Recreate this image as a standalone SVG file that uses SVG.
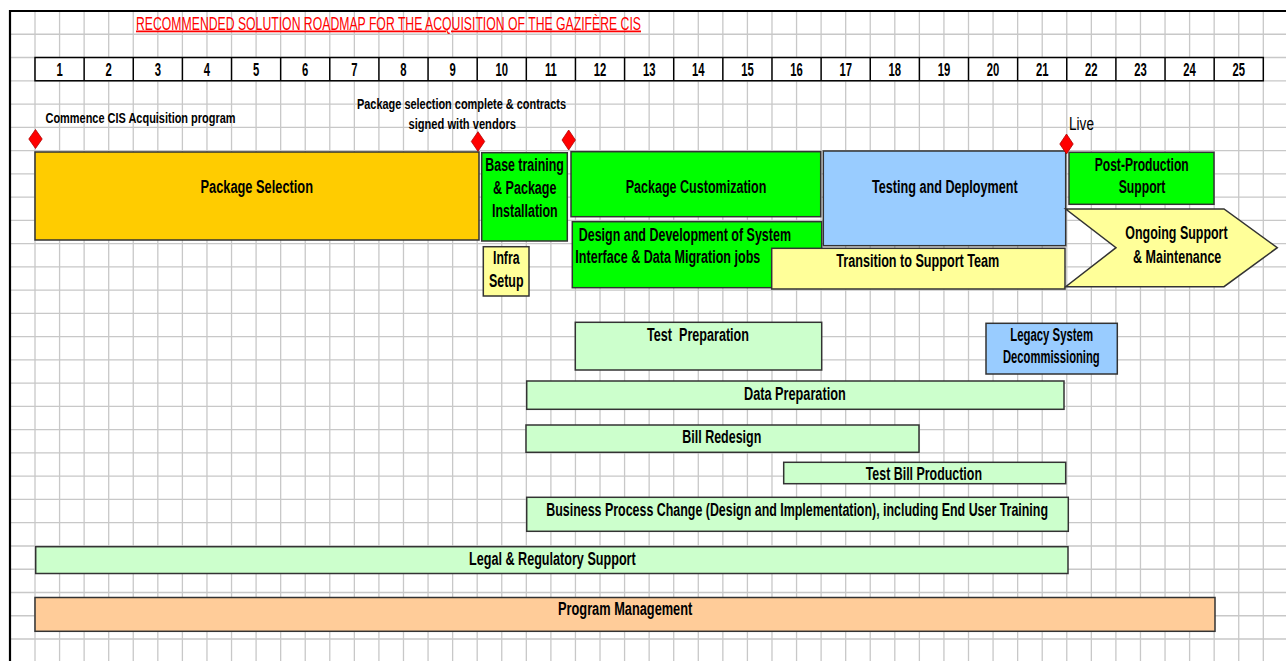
<svg xmlns="http://www.w3.org/2000/svg" width="1286" height="661" viewBox="0 0 1286 661">
<style>
text{font-family:"Liberation Sans",Arial,sans-serif;fill:#000}
.b{font-weight:bold;font-size:17.6px}
.m{font-weight:bold;font-size:14.5px}
.n{font-weight:bold;font-size:17.6px;text-anchor:middle}
.bar{stroke:#333;stroke-width:1.5}
.or{fill:#FFCC00}.gr{fill:#00FF00}.ly{fill:#FFFF99}.lb{fill:#99CCFF}.lg{fill:#CCFFCC}.pe{fill:#FFCC99}
.dia{fill:#FF0000;stroke:#B00000;stroke-width:0.8}
.grid{stroke:#C8C8C8;stroke-width:1.3;fill:none}
</style>
<rect width="1286" height="661" fill="#fff"/>
<g id="grid">
<path class="grid" d="M35,11V661M59.57,11V661M84.13,11V661M108.7,11V661M133.26,11V661M157.83,11V661M182.4,11V661M206.96,11V661M231.53,11V661M256.09,11V661M280.66,11V661M305.23,11V661M329.79,11V661M354.36,11V661M378.92,11V661M403.49,11V661M428.06,11V661M452.62,11V661M477.19,11V661M501.75,11V661M526.32,11V661M550.89,11V661M575.45,11V661M600.02,11V661M624.58,11V661M649.15,11V661M673.72,11V661M698.28,11V661M722.85,11V661M747.41,11V661M771.98,11V661M796.55,11V661M821.11,11V661M845.68,11V661M870.24,11V661M894.81,11V661M919.38,11V661M943.94,11V661M968.51,11V661M993.07,11V661M1017.64,11V661M1042.21,11V661M1066.77,11V661M1091.34,11V661M1115.9,11V661M1140.47,11V661M1165.04,11V661M1189.6,11V661M1214.17,11V661M1238.73,11V661M1263.3,11V661"/>
<path class="grid" d="M10,34.26H1286M10,57.52H1286M10,80.78H1286M10,104.04H1286M10,127.3H1286M10,150.56H1286M10,173.82H1286M10,197.08H1286M10,220.34H1286M10,243.6H1286M10,266.86H1286M10,290.12H1286M10,313.38H1286M10,336.64H1286M10,359.9H1286M10,383.16H1286M10,406.42H1286M10,429.68H1286M10,452.94H1286M10,476.2H1286M10,499.46H1286M10,522.72H1286M10,545.98H1286M10,569.24H1286M10,592.5H1286M10,615.76H1286M10,639.02H1286"/>
<path d="M10,661V11H1286" fill="none" stroke="#000" stroke-width="2.2"/>
</g>
<g id="title">
<text x="136" y="29.5" font-size="17.8" style="fill:#FF0000" text-decoration="underline" textLength="505" lengthAdjust="spacingAndGlyphs">RECOMMENDED SOLUTION ROADMAP FOR THE ACQUISITION OF THE GAZIFÈRE CIS</text>
</g>
<g id="header">
<rect x="35" y="57.52" width="1228.3" height="23.26" fill="#fff" stroke="#000" stroke-width="1.5"/>
<path d="M84.13,57.52V80.78M133.26,57.52V80.78M182.4,57.52V80.78M231.53,57.52V80.78M280.66,57.52V80.78M329.79,57.52V80.78M378.92,57.52V80.78M428.06,57.52V80.78M477.19,57.52V80.78M526.32,57.52V80.78M575.45,57.52V80.78M624.58,57.52V80.78M673.72,57.52V80.78M722.85,57.52V80.78M771.98,57.52V80.78M821.11,57.52V80.78M870.24,57.52V80.78M919.38,57.52V80.78M968.51,57.52V80.78M1017.64,57.52V80.78M1066.77,57.52V80.78M1115.9,57.52V80.78M1165.04,57.52V80.78M1214.17,57.52V80.78" stroke="#000" stroke-width="1.5"/>
<text class="n" transform="translate(59.57,76) scale(0.64,1)">1</text>
<text class="n" transform="translate(108.7,76) scale(0.64,1)">2</text>
<text class="n" transform="translate(157.83,76) scale(0.64,1)">3</text>
<text class="n" transform="translate(206.96,76) scale(0.64,1)">4</text>
<text class="n" transform="translate(256.09,76) scale(0.64,1)">5</text>
<text class="n" transform="translate(305.23,76) scale(0.64,1)">6</text>
<text class="n" transform="translate(354.36,76) scale(0.64,1)">7</text>
<text class="n" transform="translate(403.49,76) scale(0.64,1)">8</text>
<text class="n" transform="translate(452.62,76) scale(0.64,1)">9</text>
<text class="n" transform="translate(501.75,76) scale(0.64,1)">10</text>
<text class="n" transform="translate(550.89,76) scale(0.64,1)">11</text>
<text class="n" transform="translate(600.02,76) scale(0.64,1)">12</text>
<text class="n" transform="translate(649.15,76) scale(0.64,1)">13</text>
<text class="n" transform="translate(698.28,76) scale(0.64,1)">14</text>
<text class="n" transform="translate(747.41,76) scale(0.64,1)">15</text>
<text class="n" transform="translate(796.55,76) scale(0.64,1)">16</text>
<text class="n" transform="translate(845.68,76) scale(0.64,1)">17</text>
<text class="n" transform="translate(894.81,76) scale(0.64,1)">18</text>
<text class="n" transform="translate(943.94,76) scale(0.64,1)">19</text>
<text class="n" transform="translate(993.07,76) scale(0.64,1)">20</text>
<text class="n" transform="translate(1042.21,76) scale(0.64,1)">21</text>
<text class="n" transform="translate(1091.34,76) scale(0.64,1)">22</text>
<text class="n" transform="translate(1140.47,76) scale(0.64,1)">23</text>
<text class="n" transform="translate(1189.6,76) scale(0.64,1)">24</text>
<text class="n" transform="translate(1238.73,76) scale(0.64,1)">25</text>
</g>
<g id="bar-package-selection">
<rect class="bar or" x="35" y="152" width="444" height="88"/>
<text class="b" x="200.5" y="193.3" textLength="112.5" lengthAdjust="spacingAndGlyphs">Package Selection</text>
</g>
<g id="bar-base-training">
<rect class="bar gr" x="481.7" y="152.7" width="85.6" height="88.3"/>
<text class="b" x="485.3" y="171" textLength="78.5" lengthAdjust="spacingAndGlyphs">Base training</text>
<text class="b" x="493" y="194.3" textLength="63.5" lengthAdjust="spacingAndGlyphs">&amp; Package</text>
<text class="b" x="492" y="217.3" textLength="65.7" lengthAdjust="spacingAndGlyphs">Installation</text>
</g>
<g id="bar-infra-setup">
<rect class="bar ly" x="483.3" y="246.7" width="45.7" height="49.3"/>
<text class="b" x="493" y="264.3" textLength="26.5" lengthAdjust="spacingAndGlyphs">Infra</text>
<text class="b" x="489" y="287" textLength="34.5" lengthAdjust="spacingAndGlyphs">Setup</text>
</g>
<g id="bar-package-customization">
<rect class="bar gr" x="571" y="151.7" width="249.7" height="65"/>
<text class="b" x="625.7" y="193.3" textLength="140.7" lengthAdjust="spacingAndGlyphs">Package Customization</text>
</g>
<g id="bar-design-development">
<rect class="bar gr" x="572.3" y="221.7" width="249.4" height="66"/>
<text class="b" x="578.7" y="241" textLength="212.3" lengthAdjust="spacingAndGlyphs">Design and Development of System</text>
<text class="b" x="575.3" y="263.3" textLength="185" lengthAdjust="spacingAndGlyphs">Interface &amp; Data Migration jobs</text>
</g>
<g id="bar-transition">
<rect class="bar ly" x="771.7" y="248.3" width="293.3" height="40.7"/>
<text class="b" x="836.3" y="266.7" textLength="163" lengthAdjust="spacingAndGlyphs">Transition to Support Team</text>
</g>
<g id="bar-testing-deployment">
<rect class="bar lb" x="823.3" y="151" width="242.4" height="94.7"/>
<text class="b" x="872" y="192.7" textLength="145.7" lengthAdjust="spacingAndGlyphs">Testing and Deployment</text>
</g>
<g id="bar-post-production">
<rect class="bar gr" x="1069" y="152.3" width="145" height="52"/>
<text class="b" x="1094.7" y="171" textLength="94" lengthAdjust="spacingAndGlyphs">Post-Production</text>
<text class="b" x="1118.7" y="193.3" textLength="46.7" lengthAdjust="spacingAndGlyphs">Support</text>
</g>
<g id="bar-ongoing-support">
<polygon class="bar ly" points="1065.7,209 1224,209 1277.3,247.7 1224,286.7 1065.7,286.7 1116,247.7"/>
<text class="b" x="1125.3" y="239.3" textLength="102.3" lengthAdjust="spacingAndGlyphs">Ongoing Support</text>
<text class="b" x="1133" y="262.7" textLength="88.3" lengthAdjust="spacingAndGlyphs">&amp; Maintenance</text>
</g>
<g id="bar-test-preparation">
<rect class="bar lg" x="575.3" y="322.3" width="246.4" height="47.7"/>
<text class="b" x="647" y="340.7" xml:space="preserve" textLength="102" lengthAdjust="spacingAndGlyphs">Test  Preparation</text>
</g>
<g id="bar-legacy">
<rect class="bar lb" x="986" y="323.3" width="131.3" height="50.7"/>
<text class="b" x="1010.3" y="340.7" textLength="82.7" lengthAdjust="spacingAndGlyphs">Legacy System</text>
<text class="b" x="1003" y="362.7" textLength="96.7" lengthAdjust="spacingAndGlyphs">Decommissioning</text>
</g>
<g id="bar-data-preparation">
<rect class="bar lg" x="526.7" y="381" width="537.3" height="28.3"/>
<text class="b" x="744" y="400" textLength="101.7" lengthAdjust="spacingAndGlyphs">Data Preparation</text>
</g>
<g id="bar-bill-redesign">
<rect class="bar lg" x="526" y="425" width="393" height="27.3"/>
<text class="b" x="682.3" y="443.3" textLength="79" lengthAdjust="spacingAndGlyphs">Bill Redesign</text>
</g>
<g id="bar-test-bill-production">
<rect class="bar lg" x="783.7" y="462.3" width="282" height="21.4"/>
<text class="b" x="865.7" y="480" textLength="116.3" lengthAdjust="spacingAndGlyphs">Test Bill Production</text>
</g>
<g id="bar-business-process">
<rect class="bar lg" x="526.7" y="497.3" width="541.6" height="34"/>
<text class="b" x="546.3" y="515.7" textLength="501.7" lengthAdjust="spacingAndGlyphs">Business Process Change (Design and Implementation), including End User Training</text>
</g>
<g id="bar-legal">
<rect class="bar lg" x="35.7" y="546.7" width="1032.3" height="26.8"/>
<text class="b" x="469" y="565" textLength="166.7" lengthAdjust="spacingAndGlyphs">Legal &amp; Regulatory Support</text>
</g>
<g id="bar-program-management">
<rect class="bar pe" x="35" y="597.5" width="1180" height="33.8"/>
<text class="b" x="558" y="615" textLength="134.3" lengthAdjust="spacingAndGlyphs">Program Management</text>
</g>
<g id="milestone-commence">
<polygon class="dia" points="35.5,129.5 42.2,139 35.5,148.5 28.8,139"/>
<text class="m" x="45.5" y="123.3" textLength="190" lengthAdjust="spacingAndGlyphs">Commence CIS Acquisition program</text>
</g>
<g id="milestone-package-selection">
<polygon class="dia" points="478,131.7 484.7,141.5 478,151.3 471.3,141.5"/>
<text class="m" x="357" y="108.5" textLength="209" lengthAdjust="spacingAndGlyphs">Package selection complete &amp; contracts</text>
<text class="m" x="408.5" y="128.5" textLength="107.5" lengthAdjust="spacingAndGlyphs">signed with vendors</text>
</g>
<g id="milestone-customization">
<polygon class="dia" points="568.7,130 575.4,140 568.7,150 562,140"/>
</g>
<g id="milestone-live">
<polygon class="dia" points="1066.5,134 1073.2,144 1066.5,154 1059.8,144"/>
<text x="1069" y="130" font-size="17.8" textLength="25" lengthAdjust="spacingAndGlyphs">Live</text>
</g>
</svg>
